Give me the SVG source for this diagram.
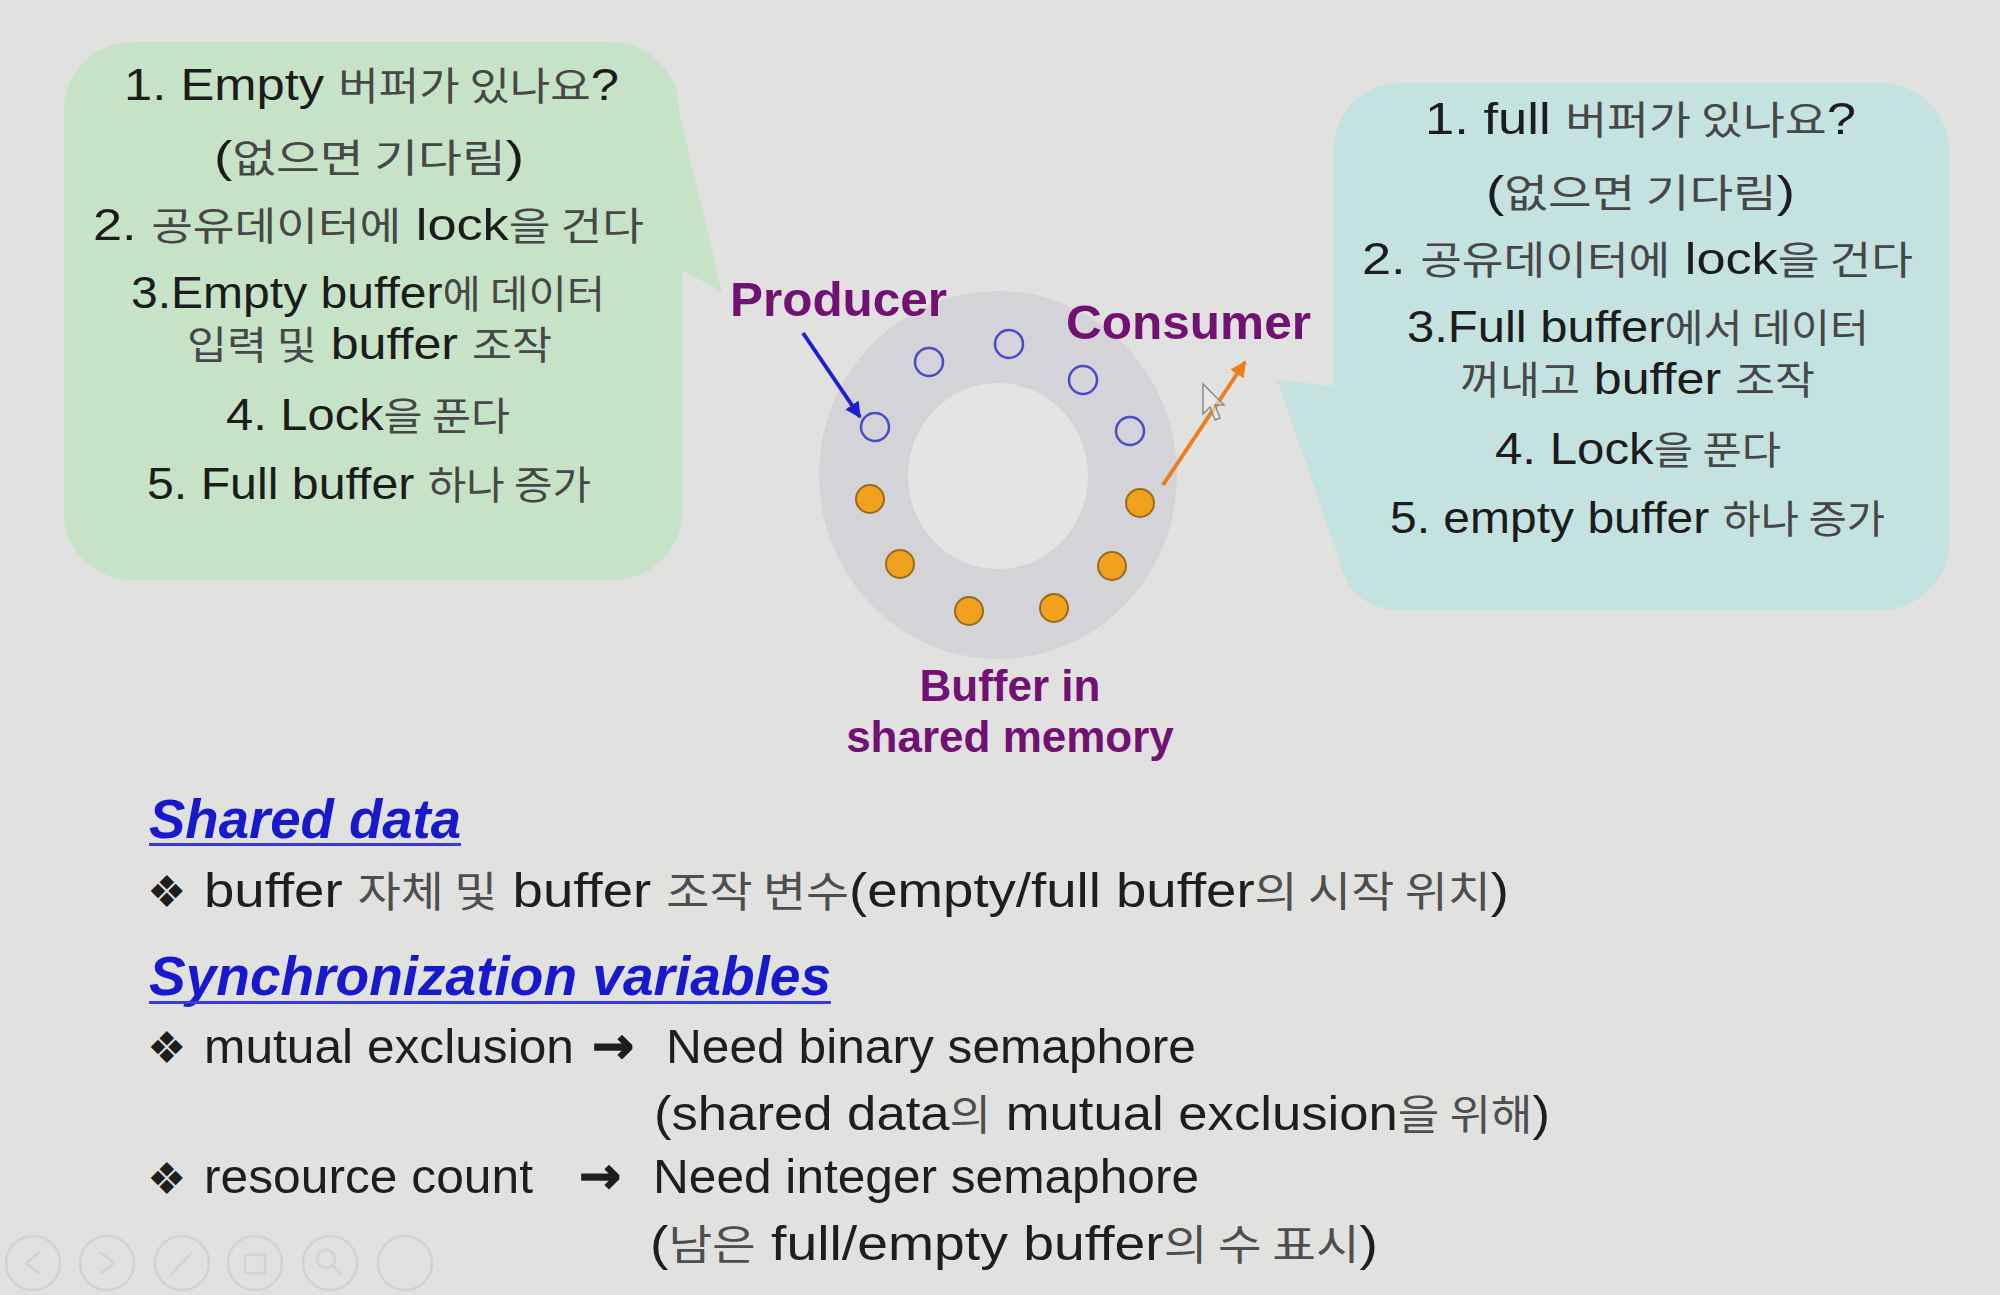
<svg xmlns="http://www.w3.org/2000/svg" width="2000" height="1295" viewBox="0 0 2000 1295">
<style>
.bt{font-family:"Liberation Sans","Noto Sans CJK KR",sans-serif;font-size:45px;fill:#1c1c1c}
.k{font-family:"Noto Sans CJK KR",sans-serif;font-size:39px;fill:#474747}
.pl{font-family:"Liberation Sans",Arial,sans-serif;font-weight:bold;fill:#731073}
.h{font-family:"Liberation Sans",Arial,sans-serif;font-weight:bold;font-style:italic;font-size:55px;fill:#1818cc}
.ul{fill:#3a3ad8}
.body{font-family:"Liberation Sans","Noto Sans CJK KR",sans-serif;font-size:49px;fill:#1e1e1e}
.bk{font-family:"Noto Sans CJK KR",sans-serif;font-size:42px;fill:#4e4e4e}
.bul{font-family:"DejaVu Sans",sans-serif;font-size:44px;fill:#1e1e1e}
.arr{font-family:"DejaVu Sans",sans-serif;font-weight:bold;font-size:50px;fill:#1e1e1e;stroke:#1e1e1e;stroke-width:1.5}
.empty{fill:none;stroke:#4b4bc8;stroke-width:2.5}
.full{fill:#f0a11e;stroke:#9a6a1a;stroke-width:2}
.icon{fill:none;stroke:#d2d2d0;stroke-width:2.5}
</style>
<defs>
<marker id="ahBlue" viewBox="0 0 10 10" refX="9" refY="5" markerWidth="4" markerHeight="4" orient="auto" markerUnits="strokeWidth">
<path d="M0,0 L10,5 L0,10 Z" fill="#1f1fd0"/>
</marker>
<marker id="ahOrange" viewBox="0 0 10 10" refX="9" refY="5" markerWidth="4" markerHeight="4" orient="auto" markerUnits="strokeWidth">
<path d="M0,0 L10,5 L0,10 Z" fill="#ee7d1e"/>
</marker>
</defs>
<rect x="0" y="0" width="2000" height="1295" fill="#e1e1df"/>

<g id="producer-bubble">
<path d="M132,42 H612 A68,68 0 0 1 679,112 L722,292 L682,270 V512 A68,68 0 0 1 614,580 H132 A68,68 0 0 1 64,512 V110 A68,68 0 0 1 132,42 Z" fill="#c6e3c8"/>
<text class="bt" x="124" y="100" textLength="495" lengthAdjust="spacingAndGlyphs">1. Empty <tspan class="k">버퍼가 있나요</tspan>?</text>
<text class="bt" x="214" y="172" textLength="310" lengthAdjust="spacingAndGlyphs">(<tspan class="k">없으면 기다림</tspan>)</text>
<text class="bt" x="93" y="240" textLength="551" lengthAdjust="spacingAndGlyphs">2. <tspan class="k">공유데이터에</tspan> lock<tspan class="k">을 건다</tspan></text>
<text class="bt" x="131" y="308" textLength="474" lengthAdjust="spacingAndGlyphs">3.Empty buffer<tspan class="k">에 데이터</tspan></text>
<text class="bt" x="187" y="359" textLength="365" lengthAdjust="spacingAndGlyphs"><tspan class="k">입력 및</tspan> buffer <tspan class="k">조작</tspan></text>
<text class="bt" x="226" y="430" textLength="284" lengthAdjust="spacingAndGlyphs">4. Lock<tspan class="k">을 푼다</tspan></text>
<text class="bt" x="147" y="499" textLength="444" lengthAdjust="spacingAndGlyphs">5. Full buffer <tspan class="k">하나 증가</tspan></text>
</g>

<g id="consumer-bubble">
<path d="M1401,83 H1881 A68,68 0 0 1 1949,151 V542 A68,68 0 0 1 1881,610 H1401 Q1350,610 1339,558 L1277,380 L1333,386 V151 A68,68 0 0 1 1401,83 Z" fill="#c3e2e0"/>
<text class="bt" x="1425" y="134" textLength="431" lengthAdjust="spacingAndGlyphs">1. full <tspan class="k">버퍼가 있나요</tspan>?</text>
<text class="bt" x="1486" y="207" textLength="309" lengthAdjust="spacingAndGlyphs">(<tspan class="k">없으면 기다림</tspan>)</text>
<text class="bt" x="1362" y="274" textLength="551" lengthAdjust="spacingAndGlyphs">2. <tspan class="k">공유데이터에</tspan> lock<tspan class="k">을 건다</tspan></text>
<text class="bt" x="1407" y="342" textLength="462" lengthAdjust="spacingAndGlyphs">3.Full buffer<tspan class="k">에서 데이터</tspan></text>
<text class="bt" x="1460" y="394" textLength="355" lengthAdjust="spacingAndGlyphs"><tspan class="k">꺼내고</tspan> buffer <tspan class="k">조작</tspan></text>
<text class="bt" x="1495" y="464" textLength="286" lengthAdjust="spacingAndGlyphs">4. Lock<tspan class="k">을 푼다</tspan></text>
<text class="bt" x="1390" y="533" textLength="495" lengthAdjust="spacingAndGlyphs">5. empty buffer <tspan class="k">하나 증가</tspan></text>
</g>

<g id="buffer">
<ellipse cx="998" cy="475" rx="179" ry="184" fill="#d4d4d8"/>
<ellipse cx="998" cy="476" rx="90" ry="93" fill="#e4e4e3"/>
<circle class="empty" cx="875" cy="427" r="14"/>
<circle class="empty" cx="929" cy="362" r="14"/>
<circle class="empty" cx="1009" cy="344" r="14"/>
<circle class="empty" cx="1083" cy="380" r="14"/>
<circle class="empty" cx="1130" cy="431" r="14"/>
<circle class="full" cx="870" cy="499" r="14"/>
<circle class="full" cx="900" cy="564" r="14"/>
<circle class="full" cx="969" cy="611" r="14"/>
<circle class="full" cx="1054" cy="608" r="14"/>
<circle class="full" cx="1112" cy="566" r="14"/>
<circle class="full" cx="1140" cy="503" r="14"/>
<text class="pl" x="1010" y="701" font-size="44" text-anchor="middle">Buffer in</text>
<text class="pl" x="1010" y="752" font-size="44" text-anchor="middle">shared memory</text>
</g>

<g id="producer-label">
<text class="pl" x="730" y="316" font-size="48" textLength="217" lengthAdjust="spacingAndGlyphs">Producer</text>
</g>
<g id="consumer-label">
<text class="pl" x="1066" y="339" font-size="49" textLength="245" lengthAdjust="spacingAndGlyphs">Consumer</text>
</g>

<g id="connectors">
<line x1="803" y1="333" x2="860" y2="417" stroke="#1f1fd0" stroke-width="4" marker-end="url(#ahBlue)"/>
<line x1="1163" y1="485" x2="1245" y2="362" stroke="#ee7d1e" stroke-width="4" marker-end="url(#ahOrange)"/>
</g>

<g id="cursor">
<path d="M1203,384 L1203,414 L1210,407 L1215,420 L1220,418 L1215,405 L1224,405 Z" fill="#eeeeee" fill-opacity="0.6" stroke="#8a8a8a" stroke-width="1.5"/>
</g>

<g id="shared-data">
<text class="h" x="149" y="838" textLength="312" lengthAdjust="spacingAndGlyphs">Shared data</text>
<rect class="ul" x="149" y="843" width="312" height="3"/>
<text class="bul" x="147" y="907">❖</text>
<text class="body" x="204" y="907" textLength="1305" lengthAdjust="spacingAndGlyphs">buffer <tspan class="bk">자체 및</tspan> buffer <tspan class="bk">조작 변수</tspan>(empty/full buffer<tspan class="bk">의 시작 위치</tspan>)</text>
</g>

<g id="sync-vars">
<text class="h" x="149" y="995" textLength="682" lengthAdjust="spacingAndGlyphs">Synchronization variables</text>
<rect class="ul" x="149" y="1001" width="682" height="3"/>
<text class="bul" x="147" y="1063">❖</text>
<text class="body" x="204" y="1063" textLength="370" lengthAdjust="spacingAndGlyphs">mutual exclusion</text>
<text class="arr" x="592" y="1063" textLength="42" lengthAdjust="spacingAndGlyphs">→</text>
<text class="body" x="666" y="1063" textLength="530" lengthAdjust="spacingAndGlyphs">Need binary semaphore</text>
<text class="body" x="654" y="1130" textLength="896" lengthAdjust="spacingAndGlyphs">(shared data<tspan class="bk">의</tspan> mutual exclusion<tspan class="bk">을 위해</tspan>)</text>
<text class="bul" x="147" y="1194">❖</text>
<text class="body" x="204" y="1193" textLength="329" lengthAdjust="spacingAndGlyphs">resource count</text>
<text class="arr" x="579" y="1193" textLength="42" lengthAdjust="spacingAndGlyphs">→</text>
<text class="body" x="653" y="1193" textLength="546" lengthAdjust="spacingAndGlyphs">Need integer semaphore</text>
<text class="body" x="650" y="1260" textLength="728" lengthAdjust="spacingAndGlyphs">(<tspan class="bk">남은</tspan> full/empty buffer<tspan class="bk">의 수 표시</tspan>)</text>
</g>

<g id="toolbar">
<circle class="icon" cx="33" cy="1263" r="27"/>
<path class="icon" d="M40,1252 L26,1263 L40,1274"/>
<circle class="icon" cx="107" cy="1263" r="27"/>
<path class="icon" d="M100,1252 L114,1263 L100,1274"/>
<circle class="icon" cx="182" cy="1263" r="27"/>
<path class="icon" d="M170,1276 L192,1252"/>
<circle class="icon" cx="255" cy="1263" r="27"/>
<rect class="icon" x="245" y="1255" width="20" height="18"/>
<circle class="icon" cx="330" cy="1263" r="27"/>
<circle class="icon" cx="326" cy="1259" r="9"/>
<path class="icon" d="M333,1266 L342,1275"/>
<circle class="icon" cx="405" cy="1263" r="27"/>
<path class="icon" d="M396,1264 h2 M404,1264 h2 M412,1264 h2"/>
</g>
</svg>
